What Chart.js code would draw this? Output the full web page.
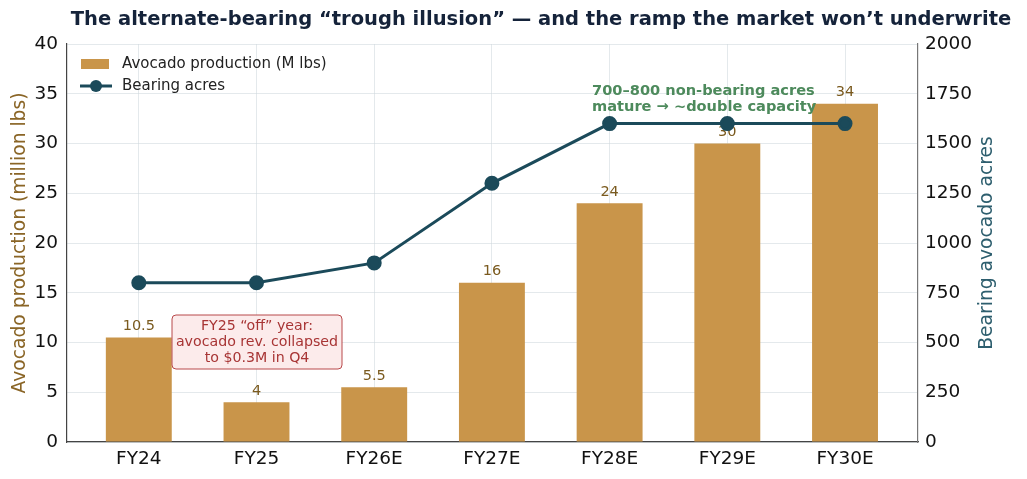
<!DOCTYPE html>
<html><head><meta charset="utf-8">
<script src="https://cdn.jsdelivr.net/npm/chart.js@4.4.0/dist/chart.umd.min.js"></script>
<style>html,body{margin:0;padding:0;background:#fff}#wrap{width:1027px;height:479px}</style>
</head><body><div id="wrap"><canvas id="c" width="1027" height="479"></canvas></div>
<script>
const categories = ["FY24","FY25","FY26E","FY27E","FY28E","FY29E","FY30E"];
const production = [10.5, 4, 5.5, 16, 24, 30, 34];
const productionLabels = ["10.5","4","5.5","16","24","30","34"];
const bearingAcres = [800, 800, 900, 1300, 1600, 1600, 1600];
const leftTicks = [0,5,10,15,20,25,30,35,40];
const rightTicks = [0,250,500,750,1000,1250,1500,1750,2000];

const BAR = "#c9954a", LINE = "#1b4a5a", LBL = "#7a5a1e";
const FONT = "'DejaVu Sans', sans-serif";

const overlay = {
  id: 'overlay',
  afterDatasetDraw(chart, args) {
    if (args.index !== 0) return;
    const ctx = chart.ctx, meta = chart.getDatasetMeta(0);
    ctx.save();
    ctx.font = "14.5px " + FONT; ctx.fillStyle = LBL;
    ctx.textAlign = "center"; ctx.textBaseline = "bottom";
    meta.data.forEach((b, i) => ctx.fillText(productionLabels[i], b.x, b.y - 4));
    ctx.restore();
  },
  afterDraw(chart) {
    const ctx = chart.ctx;
    ctx.save();
    // title
    ctx.font = "bold 19.5px " + FONT; ctx.fillStyle = "#15233a";
    ctx.textAlign = "center"; ctx.textBaseline = "middle";
    ctx.fillText("The alternate-bearing \u201ctrough illusion\u201d \u2014 and the ramp the market won\u2019t underwrite", 541, 20);
    // right axis title (reads bottom-to-top)
    const ca = chart.chartArea;
    ctx.save();
    ctx.translate(987, (ca.top + ca.bottom) / 2);
    ctx.rotate(-Math.PI / 2);
    ctx.font = "18.7px " + FONT; ctx.fillStyle = "#2d5e6e";
    ctx.fillText("Bearing avocado acres", 0, 0);
    ctx.restore();
    // legend
    ctx.fillStyle = BAR; ctx.fillRect(81, 59, 28, 10);
    ctx.strokeStyle = LINE; ctx.lineWidth = 3;
    ctx.beginPath(); ctx.moveTo(80, 86); ctx.lineTo(112, 86); ctx.stroke();
    ctx.fillStyle = LINE; ctx.beginPath(); ctx.arc(96, 86, 6, 0, Math.PI*2); ctx.fill();
    ctx.font = "15px " + FONT; ctx.fillStyle = "#222"; ctx.textAlign = "left";
    ctx.fillText("Avocado production (M lbs)", 122, 64);
    ctx.fillText("Bearing acres", 122, 86);
    // red annotation
    const bx = 172, by = 315, bw = 170, bh = 54, r = 4;
    ctx.beginPath();
    ctx.moveTo(bx + r, by); ctx.arcTo(bx + bw, by, bx + bw, by + bh, r);
    ctx.arcTo(bx + bw, by + bh, bx, by + bh, r); ctx.arcTo(bx, by + bh, bx, by, r);
    ctx.arcTo(bx, by, bx + bw, by, r); ctx.closePath();
    ctx.fillStyle = "rgba(252,234,234,0.95)"; ctx.fill();
    ctx.strokeStyle = "#b8494b"; ctx.lineWidth = 1; ctx.stroke();
    ctx.fillStyle = "#a83535"; ctx.textAlign = "center"; ctx.font = "14.2px " + FONT;
    ctx.fillText("FY25 \u201coff\u201d year:", 257, 326);
    ctx.fillText("avocado rev. collapsed", 257, 342);
    ctx.fillText("to $0.3M in Q4", 257, 358);
    // green annotation
    ctx.fillStyle = "#4d8a5c"; ctx.font = "bold 14.6px " + FONT; ctx.textAlign = "left";
    ctx.fillText("700\u2013800 non-bearing acres", 592, 91);
    ctx.fillText("mature \u2192 ~double capacity", 592, 107);
    ctx.restore();
  }
};

new Chart(document.getElementById('c'), {
  data: {
    datasets: [
      { type: 'bar', label: 'Avocado production (M lbs)', data: production.map((v, i) => ({x: i, y: v})),
        backgroundColor: BAR, yAxisID: 'y', xAxisID: 'x', order: 2,
        categoryPercentage: 1, barPercentage: 0.56 },
      { type: 'line', label: 'Bearing acres', data: bearingAcres.map((v, i) => ({x: i, y: v})),
        borderColor: LINE, backgroundColor: LINE, borderWidth: 3, pointRadius: 6, pointHoverRadius: 6,
        pointBackgroundColor: LINE, yAxisID: 'y2', xAxisID: 'x', order: 1, tension: 0 }
    ]
  },
  options: {
    responsive: false, animation: false, devicePixelRatio: 1,
    layout: { padding: { top: 44, left: 0, right: 0, bottom: 0 } },
    plugins: { legend: { display: false }, tooltip: { enabled: false } },
    scales: {
      x: { type: 'linear', position: 'bottom', min: -0.61, max: 6.62, offset: false,
        afterBuildTicks: s => { s.ticks = categories.map((c, i) => ({ value: i })); },
        afterFit: s => { s.height = 37; },
        ticks: { callback: v => categories[v], font: { family: FONT, size: 18.5 }, color: '#111', padding: 6, autoSkip: false, maxRotation: 0 },
        grid: { color: 'rgba(205,215,220,0.55)', drawTicks: false, offset: false },
        border: { color: '#444', width: 1.2 } },
      y: { position: 'left', min: 0, max: 40,
        afterBuildTicks: s => { s.ticks = leftTicks.map(v => ({ value: v })); },
        afterFit: s => { s.width = 67; },
        ticks: { font: { family: FONT, size: 18.5 }, color: '#111', padding: 9, callback: v => String(v) },
        grid: { color: 'rgba(205,215,220,0.55)', drawTicks: false },
        border: { color: '#444', width: 1.2 },
        title: { display: true, text: 'Avocado production (million lbs)', color: '#8a6526', font: { family: FONT, size: 18.7 }, padding: { top: 9, bottom: 0 } } },
      y2: { position: 'right', min: 0, max: 2000,
        afterBuildTicks: s => { s.ticks = rightTicks.map(v => ({ value: v })); },
        afterFit: s => { s.width = 109; },
        ticks: { font: { family: FONT, size: 18.5 }, color: '#111', padding: 7, callback: v => String(v) },
        grid: { drawOnChartArea: false, drawTicks: false },
        border: { color: '#777', width: 1.2 },
        title: { display: false } }
    }
  },
  plugins: [overlay]
});
</script></body></html>
